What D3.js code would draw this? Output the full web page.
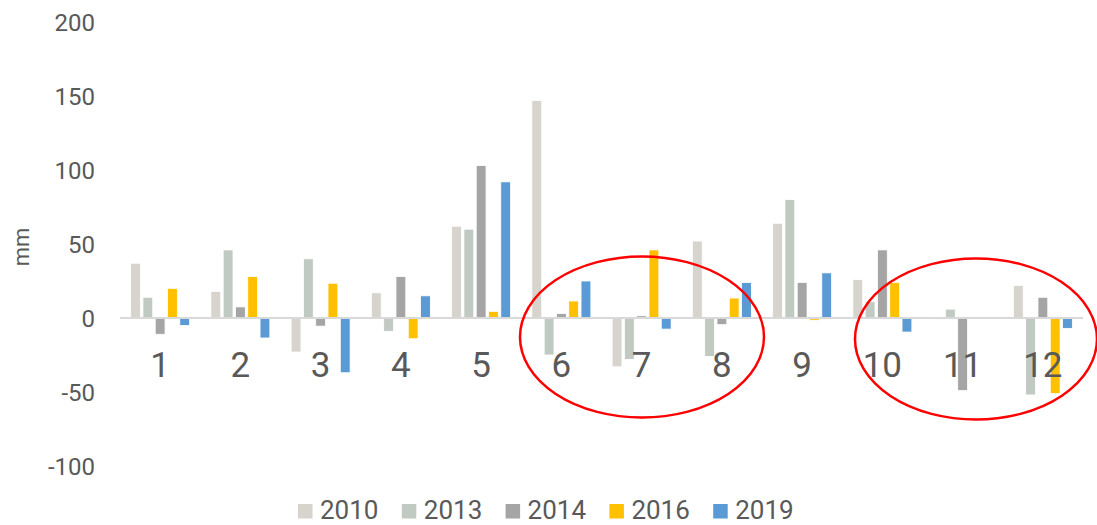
<!DOCTYPE html>
<html>
<head>
<meta charset="utf-8">
<script src="https://cdn.jsdelivr.net/npm/d3@7"></script>
<style>
  body { margin: 0; background: #fff; }
  svg { display: block; font-family: Roboto, sans-serif; }
</style>
</head>
<body>
<div id="chart"></div>
<script>
// monthly anomaly data, mm
var months = ['1','2','3','4','5','6','7','8','9','10','11','12'];
var years = ['2010','2013','2014','2016','2019'];
var colors = ['#d7d3cd','#c1cac2','#a5a5a5','#ffc000','#5b9bd5'];
var yTicks = [-100,-50,0,50,100,150,200];

var v2010 = [37, 18, -23, 17, 62, 147, -33, 52, 64, 26, -1, 22];
var v2013 = [14, 46, 40, -9, 60, -25, -28, -26, 80, 11, 6, -52];
var v2014 = [-11, 7.5, -5.5, 28, 103, 3, 1.5, -4.5, 24, 46, -49, 14];
var v2016 = [20, 28, 23.5, -14, 4.5, 11.5, 46, 13.5, -1.5, 24, 0, -51];
var v2019 = [-5, -13.5, -37, 15, 92, 25, -7.5, 24, 30.5, -9.5, 0, -7];

var series = [v2010, v2013, v2014, v2016, v2019];

var width = 1097, height = 525;
var svg = d3.select('#chart').append('svg').attr('width', width).attr('height', height);

var x0 = d3.scaleBand().domain(months).range([120, 1083]).paddingInner(0.265).paddingOuter(0.1325);
var x1 = d3.scaleBand().domain(years).range([0, x0.bandwidth()]).paddingInner(0.2);
var y = d3.scaleLinear().domain([-100, 200]).range([466, 22]);

// y tick labels (no axis line)
svg.append('g').selectAll('text').data(yTicks).enter().append('text')
    .attr('x', 95)
    .attr('y', d => y(d) + 8.5)
    .attr('text-anchor', 'end')
    .attr('font-size', 24)
    .attr('fill', '#595959')
    .text(d => d);

svg.append('text')
    .attr('transform', 'translate(29,247)rotate(-90)')
    .attr('text-anchor', 'middle')
    .attr('font-size', 22)
    .attr('fill', '#595959')
    .text('mm');

// bars
var groups = svg.append('g').selectAll('g').data(months).enter().append('g')
    .attr('transform', d => `translate(${x0(d)},0)`);

groups.selectAll('rect').data((m, i) => years.map((yr, j) => ({yr: yr, j: j, v: series[j][i]})))
    .enter().append('rect')
    .attr('x', d => x1(d.yr))
    .attr('width', x1.bandwidth())
    .attr('y', d => y(Math.max(0, d.v)))
    .attr('height', d => Math.abs(y(d.v) - y(0)))
    .attr('fill', d => colors[d.j])
    .attr('stroke', '#fff')
    .attr('stroke-width', 0.8);

// zero line
svg.append('line')
    .attr('x1', 120).attr('x2', 1083)
    .attr('y1', y(0)).attr('y2', y(0))
    .attr('stroke', '#d9d9d9').attr('stroke-width', 2);

// category labels
svg.append('g').selectAll('text').data(months).enter().append('text')
    .attr('x', d => x0(d) + x0.bandwidth() / 2)
    .attr('y', 377)
    .attr('text-anchor', 'middle')
    .attr('font-size', 35)
    .attr('fill', '#595959')
    .text(d => d);

// annotations
svg.append('ellipse').attr('cx', 642).attr('cy', 337).attr('rx', 122).attr('ry', 80.5)
    .attr('fill', 'none').attr('stroke', '#ff0000').attr('stroke-width', 2.5);
svg.append('ellipse').attr('cx', 976).attr('cy', 339).attr('rx', 121).attr('ry', 80.5)
    .attr('fill', 'none').attr('stroke', '#ff0000').attr('stroke-width', 2.5);

// legend
var legend = svg.append('g').selectAll('g').data(years).enter().append('g')
    .attr('transform', (d, i) => `translate(${298 + i * 103.8},0)`);
legend.append('rect').attr('x', 0).attr('y', 504).attr('width', 14.5).attr('height', 14.5)
    .attr('fill', (d, i) => colors[i]);
legend.append('text').attr('x', 22).attr('y', 519)
    .attr('font-size', 26).attr('fill', '#595959')
    .text(d => d);
</script>
</body>
</html>
